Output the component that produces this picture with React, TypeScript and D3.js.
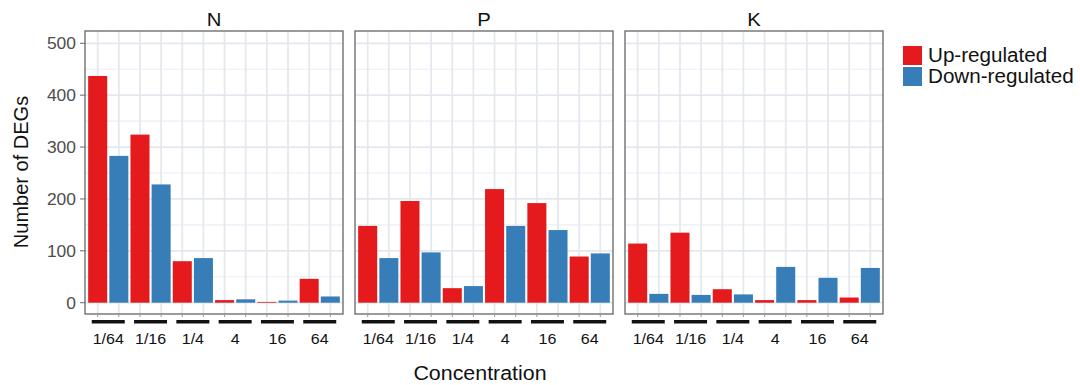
import React from "react";
import * as d3 from "d3";

const panels = ["N", "P", "K"];
const concentrations = ["1/64", "1/16", "1/4", "4", "16", "64"];
const seriesNames = ["Up-regulated", "Down-regulated"];
const seriesColors = ["#E41A1C", "#377EB8"];
const yTicks = [0, 100, 200, 300, 400, 500];
const yMinor = [50, 150, 250, 350, 450];

const upN = [437, 324, 80, 5, 1.5, 46];
const downN = [283, 228, 86, 6.5, 4, 12];
const upP = [148, 196, 28, 219, 192, 89];
const downP = [86, 97, 32, 148, 140, 95];
const upK = [114, 135, 26, 5, 5, 10];
const downK = [17, 15, 16, 69, 48, 67];

const upValues = [upN, upP, upK];
const downValues = [downN, downP, downK];

const FONT = "'Liberation Sans', Arial, Helvetica, sans-serif";
const SX = 1.07;

function T(props: { x: number; y: number; size: number; fill: string; anchor?: string; dy?: string; children: React.ReactNode }) {
  return (
    <g transform={`translate(${props.x},${props.y}) scale(${SX},1)`}>
      <text x={0} y={0} dy={props.dy} textAnchor={props.anchor || "start"} fontSize={props.size} fill={props.fill}>
        {props.children}
      </text>
    </g>
  );
}

export default function App() {
  const W = 1080, H = 385;
  const panelTop = 31, panelBottom = 314;
  const panelLefts = [85, 355, 625];
  const panelW = 258;

  const y = d3.scaleLinear().domain([0, 500]).range([302.7, 43.3]);
  const positions = d3.range(12);

  return (
    <svg width={W} height={H} style={{ position: "absolute", left: 0, top: 0, background: "#fff" }} fontFamily={FONT}>
      {panels.map((p, pi) => {
        const left = panelLefts[pi];
        const x = d3.scalePoint<number>().domain(positions).range([left, left + panelW]).padding(0.6);
        const step = x.step();
        const bw = step * 0.9;
        const data = [upValues[pi], downValues[pi]];
        return (
          <g key={p}>
            <rect x={left} y={panelTop} width={panelW} height={panelBottom - panelTop} fill="#fff" />
            {yMinor.map((t) => (
              <line key={"mi" + t} x1={left} x2={left + panelW} y1={y(t)} y2={y(t)} stroke="#ECEEF3" strokeWidth={1.1} />
            ))}
            {yTicks.map((t) => (
              <line key={"ma" + t} x1={left} x2={left + panelW} y1={y(t)} y2={y(t)} stroke="#E3E7EE" strokeWidth={1.7} />
            ))}
            {positions.map((i) => (
              <line key={"v" + i} x1={x(i)} x2={x(i)} y1={panelTop} y2={panelBottom} stroke="#E3E7EE" strokeWidth={1.7} />
            ))}
            {concentrations.map((c, gi) =>
              [0, 1].map((s) => {
                const cx = x(gi * 2 + s) as number;
                const v = data[s][gi];
                return (
                  <rect
                    key={c + s}
                    x={cx - bw / 2}
                    y={y(v)}
                    width={bw}
                    height={y(0) - y(v)}
                    fill={seriesColors[s]}
                  />
                );
              })
            )}
            <rect x={left} y={panelTop} width={panelW} height={panelBottom - panelTop} fill="none" stroke="#666" strokeWidth={1.3} />
            {positions.map((i) => (
              <line key={"t" + i} x1={x(i)} x2={x(i)} y1={panelBottom} y2={panelBottom + 3} stroke="#999" strokeWidth={1} />
            ))}
            {concentrations.map((c, gi) => {
              const cx = ((x(gi * 2) as number) + (x(gi * 2 + 1) as number)) / 2;
              return (
                <g key={"lab" + c}>
                  <line x1={cx - 16.5} x2={cx + 16.5} y1={321.7} y2={321.7} stroke="#111" strokeWidth={3.5} />
                  <T x={cx} y={343.5} anchor="middle" size={15} fill="#111">{c}</T>
                </g>
              );
            })}
            <T x={left + panelW / 2} y={25.5} anchor="middle" size={19} fill="#111">{p}</T>
          </g>
        );
      })}
      {yTicks.map((t) => (
        <g key={"yt" + t}>
          <line x1={80} x2={85} y1={y(t)} y2={y(t)} stroke="#666" strokeWidth={1} />
          <T x={76} y={y(t)} dy="0.36em" anchor="end" size={16.3} fill="#4d4d4d">{t}</T>
        </g>
      ))}
      <text transform={`translate(28,172) rotate(-90)`} textAnchor="middle" fontSize={20} fill="#111">Number of DEGs</text>
      <T x={480} y={380} anchor="middle" size={20} fill="#111">Concentration</T>
      {seriesNames.map((s, i) => (
        <g key={s}>
          <rect x={903} y={46 + i * 21} width={19} height={19} fill={seriesColors[i]} />
          <T x={928} y={55.5 + i * 21} dy="0.36em" size={19.3} fill="#111">{s}</T>
        </g>
      ))}
    </svg>
  );
}
